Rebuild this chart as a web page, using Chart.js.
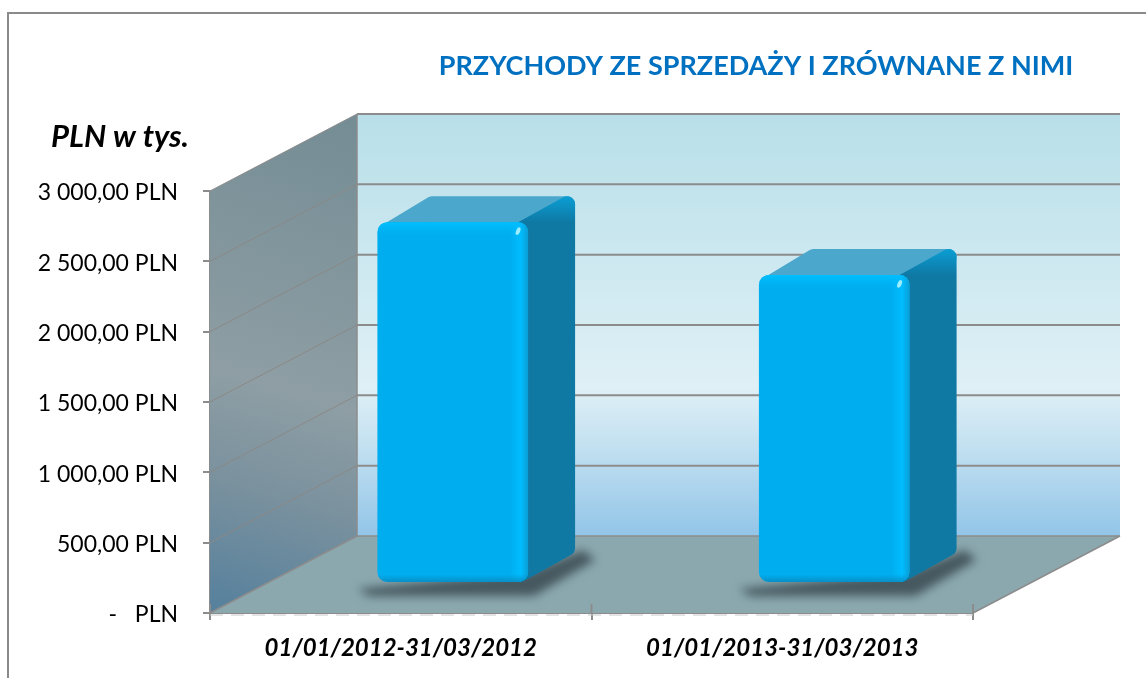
<!DOCTYPE html>
<html>
<head>
<meta charset="utf-8">
<style>
  html, body { margin: 0; padding: 0; background: #fff; overflow: hidden; }
  #wrap { width: 1146px; height: 678px; }
</style>
<script src="https://cdn.jsdelivr.net/npm/chart.js@4"></script>
</head>
<body>
<div id="wrap"><canvas id="chart" width="1146" height="678"></canvas></div>
<script>
const categories = ["01/01/2012-31/03/2012", "01/01/2013-31/03/2013"];
const przychody = [2565, 2190];
const yTickLabels = ["-   PLN", "500,00 PLN", "1 000,00 PLN", "1 500,00 PLN", "2 000,00 PLN", "2 500,00 PLN", "3 000,00 PLN"];
const chartTitle = "PRZYCHODY ZE SPRZEDAŻY I ZRÓWNANE Z NIMI";
const unitLabel = "PLN w tys.";

const FONT = "Lato, Carlito, sans-serif";
const LINE = "#8c8c8c";
// wall depth and how far into the box the bars stand
const DEPTH_X = 147, DEPTH_Y = -77;
const BAR_X = 52, BAR_Y = -30;
const BAR_DX = 47, BAR_DY = -26;

function poly(ctx, pts) {
  ctx.beginPath();
  pts.forEach((p, i) => i ? ctx.lineTo(p[0], p[1]) : ctx.moveTo(p[0], p[1]));
  ctx.closePath();
}

const walls = {
  id: "walls",
  beforeDatasetsDraw(chart) {
    const { ctx, chartArea: a, scales } = chart;
    const L = a.left, R = a.right, T = a.top, B = a.bottom;
    ctx.save();

    // outer frame
    ctx.strokeStyle = "#8a8a8a";
    ctx.lineWidth = 2;
    ctx.beginPath();
    ctx.moveTo(8, 678);
    ctx.lineTo(8, 13);
    ctx.lineTo(1146, 13);
    ctx.stroke();

    // back wall
    const back = ctx.createLinearGradient(0, T + DEPTH_Y, 0, B + DEPTH_Y);
    back.addColorStop(0, "#b8dfe9");
    back.addColorStop(0.65, "#dff0f6");
    back.addColorStop(0.8, "#c0dff0");
    back.addColorStop(1, "#92c5e8");
    ctx.fillStyle = back;
    ctx.fillRect(L + DEPTH_X, T + DEPTH_Y, R - L, B - T);

    // side wall
    const side = ctx.createLinearGradient(L + DEPTH_X, T + DEPTH_Y, L, B);
    side.addColorStop(0, "#748c94");
    side.addColorStop(0.55, "#8e9ea4");
    side.addColorStop(0.75, "#7a919e");
    side.addColorStop(1, "#55809d");
    ctx.fillStyle = side;
    poly(ctx, [[L, T], [L + DEPTH_X, T + DEPTH_Y], [L + DEPTH_X, B + DEPTH_Y], [L, B]]);
    ctx.fill();

    // floor
    ctx.fillStyle = "#8ba8af";
    poly(ctx, [[L, B], [L + DEPTH_X, B + DEPTH_Y], [R + DEPTH_X, B + DEPTH_Y], [R, B]]);
    ctx.fill();

    // gridlines, one per y tick, run along the side wall and across the back
    scales.y.ticks.forEach((t) => {
      const y = scales.y.getPixelForValue(t.value);
      if (t.value > 0) {
        ctx.strokeStyle = t.value === 3000 ? LINE : "#8b8886";
        ctx.lineWidth = 1;
        ctx.beginPath();
        ctx.moveTo(L, y);
        ctx.lineTo(L + DEPTH_X, y + DEPTH_Y);
        ctx.stroke();
      }
      ctx.strokeStyle = LINE;
      ctx.lineWidth = t.value > 0 ? 2 : 1.5;
      ctx.beginPath();
      ctx.moveTo(L + DEPTH_X, y + DEPTH_Y);
      ctx.lineTo(R + DEPTH_X, y + DEPTH_Y);
      ctx.stroke();
    });

    // box edges
    ctx.strokeStyle = LINE;
    ctx.lineWidth = 1.5;
    ctx.beginPath();
    ctx.moveTo(L + DEPTH_X, T + DEPTH_Y);
    ctx.lineTo(L + DEPTH_X, B + DEPTH_Y);
    ctx.moveTo(L, B);
    ctx.lineTo(L + DEPTH_X, B + DEPTH_Y);
    ctx.moveTo(R, B);
    ctx.lineTo(R + DEPTH_X, B + DEPTH_Y);
    ctx.stroke();

    // x ticks poke up into the floor, pale dashes under the axis line
    ctx.lineWidth = 2;
    ctx.beginPath();
    for (let i = 0; i <= categories.length; i++) {
      const x = L + i * (R - L) / categories.length;
      ctx.moveTo(x, B - 9);
      ctx.lineTo(x, B);
    }
    ctx.stroke();
    ctx.strokeStyle = "#c4c8ca";
    ctx.lineWidth = 1;
    ctx.setLineDash([13, 8]);
    ctx.beginPath();
    ctx.moveTo(L, B + 2);
    ctx.lineTo(R, B + 2);
    ctx.stroke();
    ctx.setLineDash([]);

    ctx.restore();
  },
  afterDraw(chart) {
    const { ctx } = chart;
    ctx.save();
    ctx.textBaseline = "middle";
    ctx.textAlign = "center";
    ctx.fillStyle = "#0070c0";
    ctx.font = "bold 27px " + FONT;
    ctx.fillText(chartTitle, 756, 66);
    ctx.fillStyle = "#000";
    ctx.font = "italic bold 31px " + FONT;
    ctx.fillText(unitLabel, 120, 137);
    ctx.restore();
  }
};

// side, top and floor shadow of each bar, then the front comes from Chart.js
const bars3d = {
  id: "bars3d",
  beforeDatasetDraw(chart, args) {
    const { ctx } = chart;
    const els = args.meta.data;
    ctx.save();
    ctx.translate(BAR_X, BAR_Y);
    els.forEach((el) => {
      const { x, y, base, width } = el.getProps(["x", "y", "base", "width"], true);
      const x1 = x - width / 2, x2 = x + width / 2;

      ctx.save();
      ctx.filter = "blur(5px)";
      ctx.fillStyle = "#46585f";
      poly(ctx, [[x1 - 20, base + 7], [x1 - 8, base + 14], [x2 + 6, base + 14], [x2 + BAR_DX + 20, base - 22], [x2 + BAR_DX + 8, base - 32], [x2, base - 10]]);
      ctx.fill();
      ctx.restore();

      ctx.lineJoin = "round";
      ctx.lineWidth = 16;
      const inset = 8;
      const topFace = [[x1 + inset + 4, y + inset], [x1 + BAR_DX + inset, y + BAR_DY + inset], [x2 + BAR_DX - inset, y + BAR_DY + inset], [x2 - inset, y + inset]];
      ctx.fillStyle = ctx.strokeStyle = "#4ba8cc";
      poly(ctx, topFace);
      ctx.fill();
      ctx.stroke();

      const sideGrad = ctx.createLinearGradient(0, y + BAR_DY, 0, y + BAR_DY + 26);
      sideGrad.addColorStop(0, "#0a9ed4");
      sideGrad.addColorStop(1, "#0f79a4");
      const sideFace = [[x2 - inset, y + inset], [x2 + BAR_DX - inset, y + BAR_DY + inset], [x2 + BAR_DX - inset, base + BAR_DY - inset], [x2 - inset, base - inset]];
      ctx.fillStyle = ctx.strokeStyle = sideGrad;
      poly(ctx, sideFace);
      ctx.fill();
      ctx.stroke();
    });
  },
  afterDatasetDraw(chart, args) {
    const { ctx } = chart;
    args.meta.data.forEach((el) => {
      const { x, y, base, width } = el.getProps(["x", "y", "base", "width"], true);
      const x1 = x - width / 2, x2 = x + width / 2;
      ctx.save();
      ctx.beginPath();
      ctx.roundRect(x1, y, width, base - y, 10);
      ctx.clip();

      // soft bevel on the front edges
      let g = ctx.createLinearGradient(0, y, 0, y + 16);
      g.addColorStop(0, "#00c0ff");
      g.addColorStop(1, "rgba(0,174,239,0)");
      ctx.fillStyle = g;
      ctx.fillRect(x1, y, width, 16);
      g = ctx.createLinearGradient(x2 - 18, 0, x2, 0);
      g.addColorStop(0, "rgba(0,190,255,0)");
      g.addColorStop(0.6, "#00bcff");
      g.addColorStop(1, "#0a9ed4");
      ctx.fillStyle = g;
      ctx.fillRect(x2 - 18, y, 18, base - y);
      g = ctx.createLinearGradient(0, base - 8, 0, base);
      g.addColorStop(0, "rgba(0,150,210,0)");
      g.addColorStop(1, "#0a8fc4");
      ctx.fillStyle = g;
      ctx.fillRect(x1, base - 8, width, 8);

      ctx.fillStyle = "#9eeeff";
      ctx.beginPath();
      ctx.ellipse(x2 - 10, y + 9, 2, 4, 0.4, 0, Math.PI * 2);
      ctx.fill();
      ctx.restore();
    });
    ctx.restore();
  }
};

new Chart(document.getElementById("chart"), {
  type: "bar",
  data: {
    labels: categories,
    datasets: [{
      label: "Przychody",
      data: przychody,
      backgroundColor: "#00aeef",
      borderWidth: 0,
      borderRadius: 10,
      borderSkipped: false,
      categoryPercentage: 1,
      barPercentage: 0.395,
      clip: false
    }]
  },
  plugins: [walls, bars3d],
  options: {
    responsive: false,
    animation: false,
    layout: { padding: { top: 191, right: 173, left: 0, bottom: 0 } },
    plugins: { legend: { display: false }, title: { display: false }, tooltip: { enabled: false } },
    scales: {
      x: {
        afterFit: (scale) => { scale.height = 65; },
        grid: { drawOnChartArea: false, color: LINE, tickLength: 7, lineWidth: 2 },
        border: { color: LINE, width: 2 },
        ticks: {
          color: "#000",
          padding: 14,
          maxRotation: 0,
          font: { family: FONT, size: 24, weight: "bold", style: "italic" }
        }
      },
      y: {
        min: 0,
        max: 3000,
        afterFit: (scale) => { scale.width = 210; },
        grid: { drawOnChartArea: false, color: LINE, tickLength: 7, lineWidth: 2 },
        border: { color: LINE, width: 2 },
        ticks: {
          stepSize: 500,
          color: "#000",
          padding: 25,
          labelOffset: 2,
          callback: (v) => yTickLabels[v / 500],
          font: { family: FONT, size: 23 }
        }
      }
    }
  }
});
</script>
</body>
</html>
